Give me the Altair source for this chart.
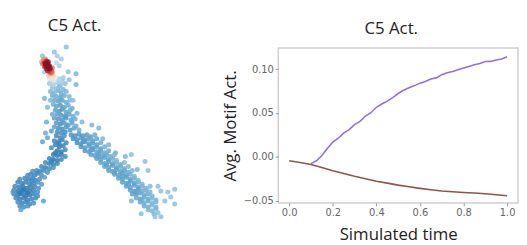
import altair as alt
import pandas as pd

# ---------------- left panel: 2-D embedding coloured by C5 activity ----------------
# (x, y) in embedding units, activity value
red_blob = [
    (55, 74, -0.1), (50, 73, -0.1), (56, 71, 0.05), (52, 72, 0.1), (54, 70, 0.2),
    (49, 70, 0.3), (53, 68, 0.35), (51, 68, 0.45), (42, 56, 0.4), (44, 54, 0.55),
    (46, 53, 0.5), (43, 58, 0.6), (53, 62, 0.6), (53, 66, 0.5), (52, 65, 0.65),
    (45, 61, 0.75), (50, 66, 0.75), (52, 67, 0.6), (45, 57, 0.85), (49, 56, 0.85),
    (48, 65, 0.85), (47, 55, 0.9), (51, 63, 0.9), (46, 60, 0.95), (50, 60, 0.95),
    (47, 63, 0.95), (48, 57, 1.0), (46, 58, 1.0), (49, 60, 1.0), (48, 61, 1.0),
    (50, 63, 1.0), (47, 59, 1.0),
]
top_scatter = [
    (67, 41, -0.45), (55, 46, -0.45), (62, 53, -0.4), (58, 50, -0.4), (43, 50, -0.45),
    (45, 66, -0.4), (77, 68, -0.5), (77, 79, -0.5), (69, 66, -0.45), (64, 72, -0.4),
    (70, 74, -0.45), (60, 60, -0.35), (57, 57, -0.3),
]
stem = [
    (52, 74, -0.3), (56, 75, -0.3), (60, 73, -0.35), (63, 76, -0.4),
    (50, 78, -0.4), (54, 79, -0.35), (58, 77, -0.4), (61, 80, -0.45), (66, 78, -0.45),
    (53, 82, -0.45), (57, 83, -0.45), (60, 81, -0.5), (64, 84, -0.5),
    (51, 86, -0.5), (55, 87, -0.5), (59, 85, -0.55), (62, 88, -0.55), (67, 86, -0.5),
    (53, 90, -0.55), (57, 91, -0.55), (61, 92, -0.6), (65, 90, -0.55), (70, 91, -0.5),
    (55, 95, -0.55), (59, 96, -0.6), (63, 95, -0.6), (67, 97, -0.55), (71, 95, -0.5),
    (54, 99, -0.55), (57, 101, -0.6), (61, 100, -0.65), (65, 102, -0.6), (69, 100, -0.55),
    (73, 103, -0.55), (56, 105, -0.6), (60, 106, -0.65), (63, 104, -0.65), (67, 107, -0.6),
    (71, 105, -0.55), (58, 109, -0.6), (62, 110, -0.65), (66, 111, -0.65), (70, 109, -0.6),
    (74, 111, -0.55), (55, 113, -0.6), (59, 114, -0.65), (63, 115, -0.65), (67, 113, -0.65),
    (72, 115, -0.6), (76, 114, -0.55), (57, 118, -0.65), (61, 119, -0.7), (65, 118, -0.65),
    (69, 120, -0.65), (73, 118, -0.6), (77, 121, -0.55), (59, 123, -0.7), (63, 124, -0.7),
    (67, 122, -0.65), (71, 125, -0.65), (75, 123, -0.6), (80, 125, -0.55), (58, 127, -0.7),
    (62, 128, -0.7), (66, 127, -0.7), (55, 122, -0.6), (53, 109, -0.55), (51, 95, -0.5),
    (47, 117, -0.55), (52, 126, -0.6), (46, 128, -0.55), (43, 137, -0.6), (48, 133, -0.6),
    (83, 117, -0.5), (93, 120, -0.5), (100, 123, -0.5), (74, 95, -0.45), (45, 93, -0.5),
    (78, 108, -0.5), (48, 102, -0.5),
]
left_branch = [
    (57, 131, -0.72), (61, 133, -0.72), (65, 131, -0.7), (55, 136, -0.72), (59, 137, -0.75),
    (63, 135, -0.75), (67, 138, -0.72), (56, 140, -0.75), (60, 142, -0.78), (64, 141, -0.75),
    (52, 143, -0.7), (58, 146, -0.78), (62, 147, -0.78), (66, 145, -0.72), (54, 150, -0.78),
    (58, 151, -0.8), (62, 150, -0.78), (66, 152, -0.72), (50, 154, -0.75), (54, 155, -0.8),
    (58, 156, -0.78), (62, 155, -0.72), (46, 158, -0.72), (50, 159, -0.75), (54, 160, -0.75),
    (58, 159, -0.72), (42, 162, -0.72), (46, 163, -0.75), (50, 164, -0.72), (54, 163, -0.68),
    (37, 166, -0.7), (40, 167, -0.72), (44, 166, -0.72), (48, 168, -0.68), (31, 170, -0.72),
    (35, 171, -0.72), (38, 169, -0.72), (42, 171, -0.68), (25, 174, -0.72), (29, 175, -0.75),
    (33, 174, -0.75), (36, 176, -0.72), (40, 175, -0.68), (18, 178, -0.72), (22, 179, -0.75),
    (26, 178, -0.75), (30, 180, -0.75), (34, 179, -0.72), (38, 178, -0.68), (15, 182, -0.72),
    (19, 183, -0.75), (23, 182, -0.78), (27, 184, -0.78), (31, 183, -0.75), (35, 182, -0.72),
    (39, 184, -0.68), (14, 186, -0.72), (18, 187, -0.78), (22, 186, -0.8), (26, 188, -0.8),
    (30, 187, -0.78), (34, 186, -0.75), (38, 188, -0.68), (14, 190, -0.72), (18, 191, -0.78),
    (22, 190, -0.82), (26, 192, -0.82), (30, 191, -0.78), (34, 190, -0.75), (38, 192, -0.7),
    (16, 194, -0.72), (20, 195, -0.78), (24, 194, -0.78), (28, 196, -0.75), (32, 195, -0.75),
    (36, 194, -0.7), (18, 198, -0.7), (22, 199, -0.75), (26, 198, -0.75), (30, 200, -0.72),
    (34, 199, -0.68), (20, 202, -0.68), (24, 203, -0.7), (28, 202, -0.68), (44, 197, -0.6),
    (21, 206, -0.6), (45, 173, -0.62), (13, 188, -0.62), (33, 167, -0.68), (28, 171, -0.7),
    (20, 175, -0.7), (42, 180, -0.65), (24, 185, -0.8), (28, 189, -0.8), (20, 189, -0.8),
    (32, 177, -0.72), (52, 157, -0.78), (56, 148, -0.78), (60, 139, -0.75),
]
right_branch = [
    (72, 130, -0.68), (76, 131, -0.68), (80, 129, -0.66), (84, 131, -0.64), (88, 130, -0.62),
    (92, 132, -0.6), (96, 130, -0.55), (74, 134, -0.68), (78, 135, -0.68), (82, 133, -0.66),
    (86, 135, -0.64), (90, 134, -0.62), (94, 136, -0.6), (98, 134, -0.58), (78, 138, -0.68),
    (82, 139, -0.66), (86, 137, -0.64), (90, 139, -0.62), (94, 138, -0.62), (98, 140, -0.6),
    (102, 138, -0.55), (82, 142, -0.66), (86, 143, -0.64), (90, 141, -0.62), (94, 143, -0.62),
    (98, 142, -0.6), (102, 144, -0.58), (106, 142, -0.55), (86, 146, -0.64), (90, 147, -0.62),
    (94, 145, -0.62), (98, 147, -0.6), (102, 146, -0.6), (106, 148, -0.55), (110, 146, -0.55),
    (92, 150, -0.62), (96, 151, -0.62), (100, 149, -0.6), (104, 151, -0.6), (108, 150, -0.58),
    (112, 152, -0.55), (116, 150, -0.5), (98, 154, -0.62), (102, 155, -0.6), (106, 153, -0.6),
    (110, 155, -0.6), (114, 154, -0.55), (118, 156, -0.5), (102, 158, -0.6), (106, 159, -0.6),
    (110, 157, -0.6), (114, 159, -0.6), (118, 158, -0.55), (122, 160, -0.55), (126, 158, -0.5),
    (106, 162, -0.6), (110, 163, -0.6), (114, 161, -0.6), (118, 163, -0.6), (122, 162, -0.55),
    (126, 164, -0.55), (130, 162, -0.5), (110, 166, -0.6), (114, 167, -0.6), (118, 165, -0.6),
    (122, 167, -0.6), (126, 166, -0.6), (130, 168, -0.55), (134, 166, -0.5), (116, 170, -0.6),
    (120, 171, -0.6), (124, 169, -0.6), (128, 171, -0.6), (132, 170, -0.55), (136, 172, -0.5),
    (120, 174, -0.6), (124, 175, -0.6), (128, 173, -0.6), (132, 175, -0.6), (136, 174, -0.55),
    (140, 176, -0.5), (124, 178, -0.6), (128, 179, -0.6), (132, 177, -0.6), (136, 179, -0.6),
    (140, 178, -0.55), (144, 180, -0.5), (128, 182, -0.6), (132, 183, -0.6), (136, 181, -0.6),
    (140, 183, -0.6), (144, 182, -0.55), (148, 184, -0.5), (152, 182, -0.5), (132, 186, -0.6),
    (136, 187, -0.6), (140, 185, -0.6), (144, 187, -0.55), (148, 186, -0.55), (152, 188, -0.5),
    (134, 190, -0.6), (138, 191, -0.6), (142, 189, -0.6), (146, 191, -0.55), (150, 190, -0.55),
    (154, 192, -0.5), (138, 194, -0.55), (142, 195, -0.6), (146, 193, -0.55), (150, 195, -0.55),
    (154, 194, -0.5), (158, 196, -0.5), (142, 198, -0.55), (146, 199, -0.55), (150, 197, -0.55),
    (154, 199, -0.5), (158, 198, -0.5), (146, 202, -0.55), (150, 203, -0.55), (154, 201, -0.5),
    (158, 203, -0.5), (150, 206, -0.5), (154, 207, -0.5), (158, 205, -0.5), (156, 210, -0.5),
    (160, 209, -0.45),
    (117, 148, -0.5), (127, 152, -0.5), (133, 150, -0.45), (147, 157, -0.45), (150, 166, -0.45),
    (163, 187, -0.45), (170, 188, -0.45), (177, 185, -0.45), (177, 200, -0.45), (167, 197, -0.45),
    (157, 213, -0.45), (163, 213, -0.45), (143, 210, -0.45), (133, 197, -0.5), (173, 193, -0.45),
    (110, 140, -0.5), (104, 134, -0.5), (160, 182, -0.45), (139, 165, -0.5),
    (84, 137, -0.65), (92, 145, -0.62), (100, 152, -0.6), (108, 160, -0.6), (116, 168, -0.6),
    (124, 172, -0.6), (130, 180, -0.6), (138, 188, -0.6), (144, 196, -0.55),
]

points = top_scatter + stem + left_branch + right_branch + red_blob
emb = pd.DataFrame(points, columns=["u1", "u2", "act"]).sort_values("act", kind="stable")

# ---------------- right panel: average motif activity over simulated time ----------------
purple_t = [0.100, 0.125, 0.150, 0.175, 0.200, 0.225, 0.250, 0.275, 0.300, 0.325,
            0.350, 0.375, 0.400, 0.425, 0.450, 0.475, 0.500, 0.525, 0.550, 0.575,
            0.600, 0.625, 0.650, 0.675, 0.700, 0.725, 0.750, 0.775, 0.800, 0.825,
            0.850, 0.875, 0.900, 0.925, 0.950, 0.975, 1.000]
purple_v = [-0.0078, -0.0045, 0.0015, 0.0095, 0.0168, 0.0212, 0.0270, 0.0310, 0.0368, 0.0405,
            0.0465, 0.0503, 0.0565, 0.0602, 0.0635, 0.0676, 0.0722, 0.0760, 0.0788, 0.0812,
            0.0840, 0.0858, 0.0887, 0.0900, 0.0937, 0.0958, 0.0974, 0.0993, 0.1012, 0.1030,
            0.1050, 0.1063, 0.1087, 0.1088, 0.1104, 0.1116, 0.1140]
brown_t = [0.00, 0.05, 0.10, 0.15, 0.20, 0.25, 0.30, 0.35, 0.40, 0.45, 0.50,
           0.55, 0.60, 0.65, 0.70, 0.75, 0.80, 0.85, 0.90, 0.95, 1.00]
brown_v = [-0.0045, -0.0065, -0.0088, -0.0122, -0.0158, -0.0190, -0.0222, -0.0250, -0.0278,
           -0.0300, -0.0323, -0.0342, -0.0360, -0.0376, -0.0390, -0.0398, -0.0406, -0.0413,
           -0.0422, -0.0432, -0.0444]

x_ticks = [0.0, 0.2, 0.4, 0.6, 0.8, 1.0]
y_ticks = [-0.05, 0.0, 0.05, 0.10]

lines = pd.concat([
    pd.DataFrame({"t": purple_t, "v": purple_v, "series": "on"}),
    pd.DataFrame({"t": brown_t, "v": brown_v, "series": "off"}),
])

FONT = "Open Sans"
TSIZE = 17
title_style = dict(font=FONT, fontSize=TSIZE, fontWeight="normal", color="#222222")
axis_style = dict(grid=False, domain=False, tickSize=3, tickColor="#999999", labelPadding=2,
                  labelFont="DejaVu Sans", labelFontSize=10, labelColor="#666666",
                  titleFont=FONT, titleFontSize=TSIZE, titleFontWeight="normal",
                  titleColor="#222222")

left = alt.Chart(emb).mark_circle(size=26, opacity=0.85).encode(
    x=alt.X("u1:Q", axis=None, scale=alt.Scale(domain=[8, 183], nice=False, zero=False)),
    y=alt.Y("u2:Q", axis=None, scale=alt.Scale(domain=[42, 212], nice=False, zero=False, reverse=True)),
    color=alt.Color("act:Q", legend=None,
                    scale=alt.Scale(scheme="redblue", reverse=True, domain=[-1, 1])),
).properties(
    width=175, height=170,
    title=alt.TitleParams("C5 Act.", dx=-20, offset=10, **title_style),
)

right = alt.Chart(lines).mark_line(strokeWidth=1.6).encode(
    x=alt.X("t:Q", title="Simulated time",
            scale=alt.Scale(domain=[-0.05, 1.05], nice=False, zero=False),
            axis=alt.Axis(values=x_ticks, format=".1f", titlePadding=9, **axis_style)),
    y=alt.Y("v:Q", title="Avg. Motif Act.",
            scale=alt.Scale(domain=[-0.0526, 0.124], nice=False, zero=False),
            axis=alt.Axis(values=y_ticks, format=".2f", titlePadding=4, **axis_style)),
    color=alt.Color("series:N", legend=None,
                    scale=alt.Scale(domain=["on", "off"], range=["#9370db", "#8c564b"])),
).properties(
    width=243, height=157,
    title=alt.TitleParams("C5 Act.", dx=-7, offset=10, **title_style),
    view=alt.ViewBackground(stroke="#cfcfcf", strokeWidth=1.5),
)

chart = alt.hconcat(left, right, spacing=40).properties(
    padding={"left": 0, "top": 7, "right": 0, "bottom": 0}
).configure_view(strokeWidth=0)

chart.save("out.html", embed_options={"renderer": "svg", "actions": False})
